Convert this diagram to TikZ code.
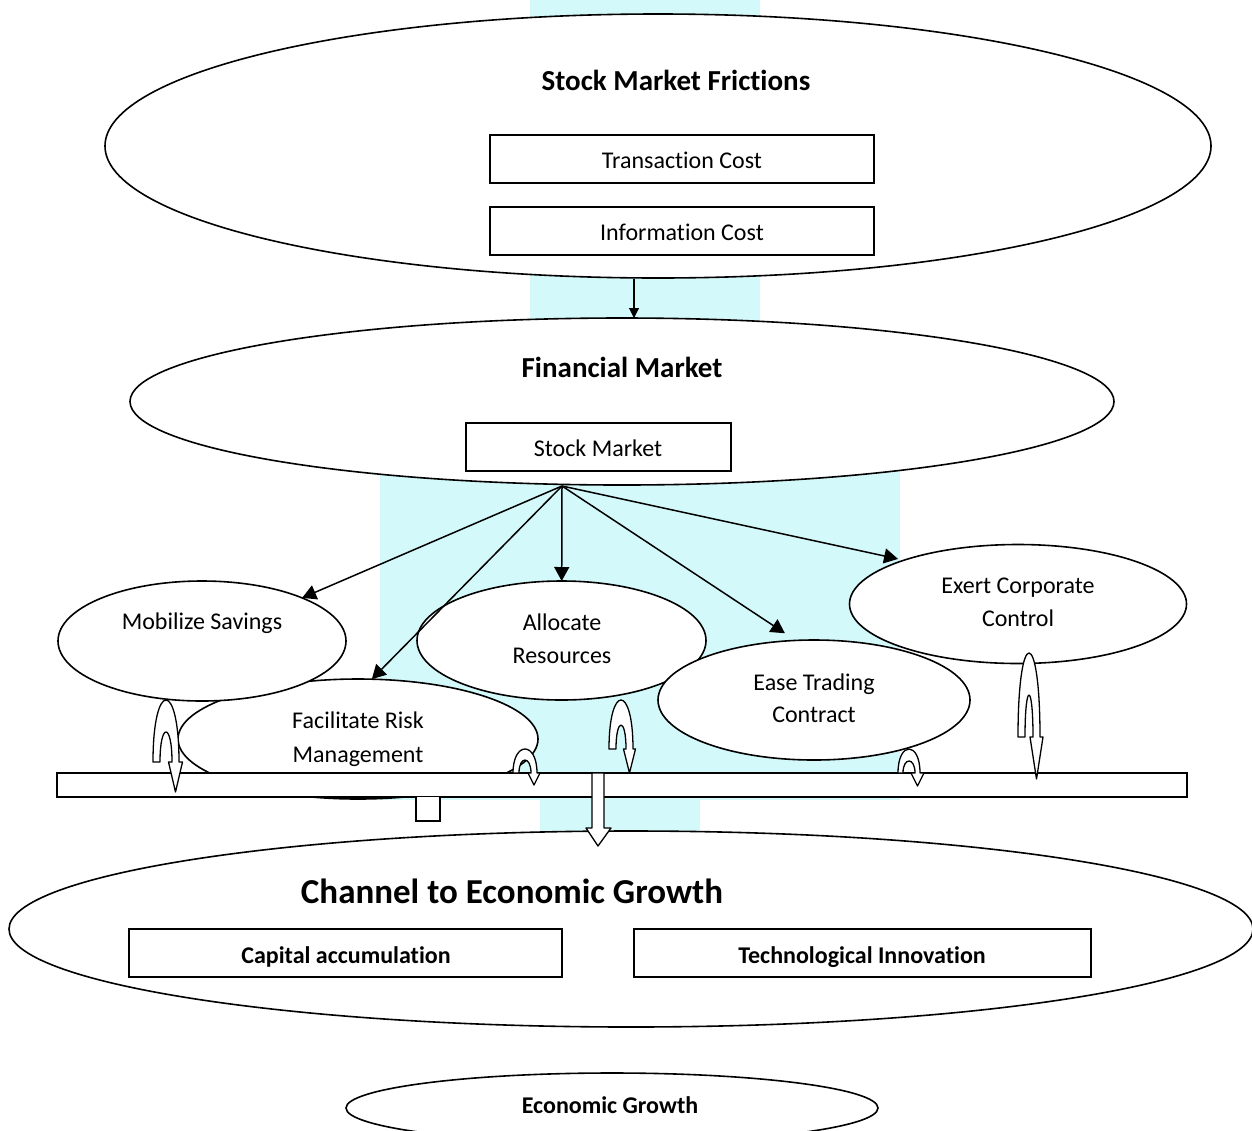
\documentclass[tikz,border=0pt]{standalone}
\usepackage{fontspec}
\setmainfont{Carlito}[Ligatures=NoCommon]
\usetikzlibrary{arrows.meta,shapes.geometric,calc}
\definecolor{wmcyan}{RGB}{212,249,250}
\newcommand{\uturnarrow}[8]{%
 \pgfmathsetmacro\uR{#1+2*#6}%
 \pgfmathsetmacro\uIL{#1+#7}%
 \pgfmathsetmacro\uIR{#1+2*#6-#7}%
 \pgfmathsetmacro\uC{#1+2*#6-#7/2}%
 \pgfmathsetmacro\uCo{#4-4/3*(#4-#2)}%
 \pgfmathsetmacro\uCi{#4-4/3*(#4-#3)}%
 \draw[uturn] (#1,#4) .. controls (#1,\uCo) and (\uR,\uCo) .. (\uR,#4) -- (\uC+#8,#4) -- (\uC,#5) -- (\uC-#8,#4) -- (\uIR,#4) .. controls (\uIR,\uCi) and (\uIL,\uCi) .. (\uIL,#4) -- cycle;
}
\begin{document}
\begin{tikzpicture}[x=1pt,y=-1pt,
 ell/.style={ellipse,draw,line width=1.6pt,fill=white,inner sep=0pt,outer sep=0pt},
 boxn/.style={rectangle,draw,line width=1.6pt,fill=white,inner sep=0pt,outer sep=0pt},
 lbl/.style={anchor=base,inner sep=0pt,font=\fontsize{24}{28}\selectfont},
 blbl/.style={anchor=base,inner sep=0pt,font=\fontsize{24}{28}\selectfont\bfseries},
 hlbl/.style={anchor=base,inner sep=0pt,font=\fontsize{29}{34}\selectfont\bfseries},
 clbl/.style={anchor=base,inner sep=0pt,font=\fontsize{35}{40}\selectfont\bfseries},
 conn/.style={line width=1.5pt,-{Triangle[length=14pt,width=15pt]}},
 thinconn/.style={line width=1.1pt,-{Triangle[length=10pt,width=10pt]}},
 uturn/.style={line width=1.3pt,fill=white,line join=round},
 wm/.style={fill=wmcyan,draw=none}]
\useasboundingbox (0,0) rectangle (1252,1130);
% faint watermark
\path[wm] (530,0) rectangle (760,330);
\path[wm] (380,470) rectangle (900,800);
\path[wm] (540,797) rectangle (700,835);

% Stock Market Frictions
\node[ell,minimum width=1106pt,minimum height=264pt] (smf) at (658,146) {};
\node[hlbl] (smft) at (676,90) {Stock Market Frictions};
\node[boxn,minimum width=384pt,minimum height=48pt] (tc) at (682,159) {};
\node[lbl] (tct) at (682,168) {Transaction Cost};
\node[boxn,minimum width=384pt,minimum height=48pt] (ic) at (682,231) {};
\node[lbl] (ict) at (682,240) {Information Cost};

% Financial Market
\node[ell,minimum width=984pt,minimum height=167pt] (fm) at (622,401.5) {};
\node[hlbl] (fmt) at (622,377) {Financial Market};
\node[boxn,minimum width=265pt,minimum height=48pt] (sm) at (598.5,447) {};
\node[lbl] (smt) at (598,456) {Stock Market};

\coordinate (a1) at (634,278.5);
\draw[thinconn] (a1) -- (a1 |- fm.north);

% functions
\node[ell,minimum width=360pt,minimum height=120pt] (fac) at (358,739) {};
\node[lbl] (fact1) at (358,728) {Facilitate Risk};
\node[lbl] (fact2) at (358,762) {Management};
\node[ell,minimum width=288pt,minimum height=120pt] (mob) at (202,641) {};
\node[lbl] (mobt) at (202,629) {Mobilize Savings};
\node[ell,minimum width=289pt,minimum height=119pt] (all) at (561.5,640.5) {};
\node[lbl] (allt1) at (562,630) {Allocate};
\node[lbl] (allt2) at (562,663) {Resources};
\node[ell,minimum width=312pt,minimum height=120pt] (ease) at (814,700) {};
\node[lbl] (easet1) at (814,690) {Ease Trading};
\node[lbl] (easet2) at (814,722) {Contract};
\node[ell,minimum width=337pt,minimum height=119pt] (exert) at (1018,604) {};
\node[lbl] (exertt1) at (1018,593) {Exert Corporate};
\node[lbl] (exertt2) at (1018,626) {Control};

\coordinate (hub) at (562,486);
\draw[conn] (hub) -- (mob);
\draw[conn] (hub) -- (fac.77);
\draw[conn] (hub) -- (all);
\draw[conn,shorten >=13pt] (hub) -- (ease.107);
\draw[conn,shorten >=6pt] (hub) -- (exert.159);

% bar
\node[boxn,line width=1.5pt,minimum width=1130pt,minimum height=24pt] (bar) at (622,785) {};
\draw[line width=1.5pt,fill=white] (416,797) -- (416,821) -- (440,821) -- (440,797);

% u-turn arrows
\uturnarrow{153}{700}{732}{762}{792}{13}{7}{7}
\uturnarrow{513}{749}{760}{773}{785}{12}{6}{6}
\uturnarrow{609}{700}{725}{749}{773}{12}{7}{6}
\uturnarrow{898}{749}{761}{773}{786}{11}{5}{6.5}
\uturnarrow{1018}{653}{695}{737}{779}{11}{7}{6.5}

% Channel to Economic Growth
\node[ell,minimum width=1244pt,minimum height=196pt] (ch) at (631,929) {};
\node[clbl] (cht) at (512,903) {Channel to Economic Growth};
\node[boxn,minimum width=433pt,minimum height=48pt] (cap) at (345.5,953) {};
\node[blbl] (capt) at (346,963) {Capital accumulation};
\node[boxn,minimum width=457pt,minimum height=48pt] (tech) at (862.5,953) {};
\node[blbl] (techt) at (862,963) {Technological Innovation};

% block arrow from bar to channel
\draw[uturn] (592,773) -- (592,828) -- (586,828) -- (598,846) -- (611,828) -- (604,828) -- (604,773) -- cycle;

% Economic Growth
\node[ell,minimum width=532pt,minimum height=70pt] (eg) at (612,1108) {};
\node[blbl] (egt) at (610,1113) {Economic Growth};
\end{tikzpicture}
\end{document}
